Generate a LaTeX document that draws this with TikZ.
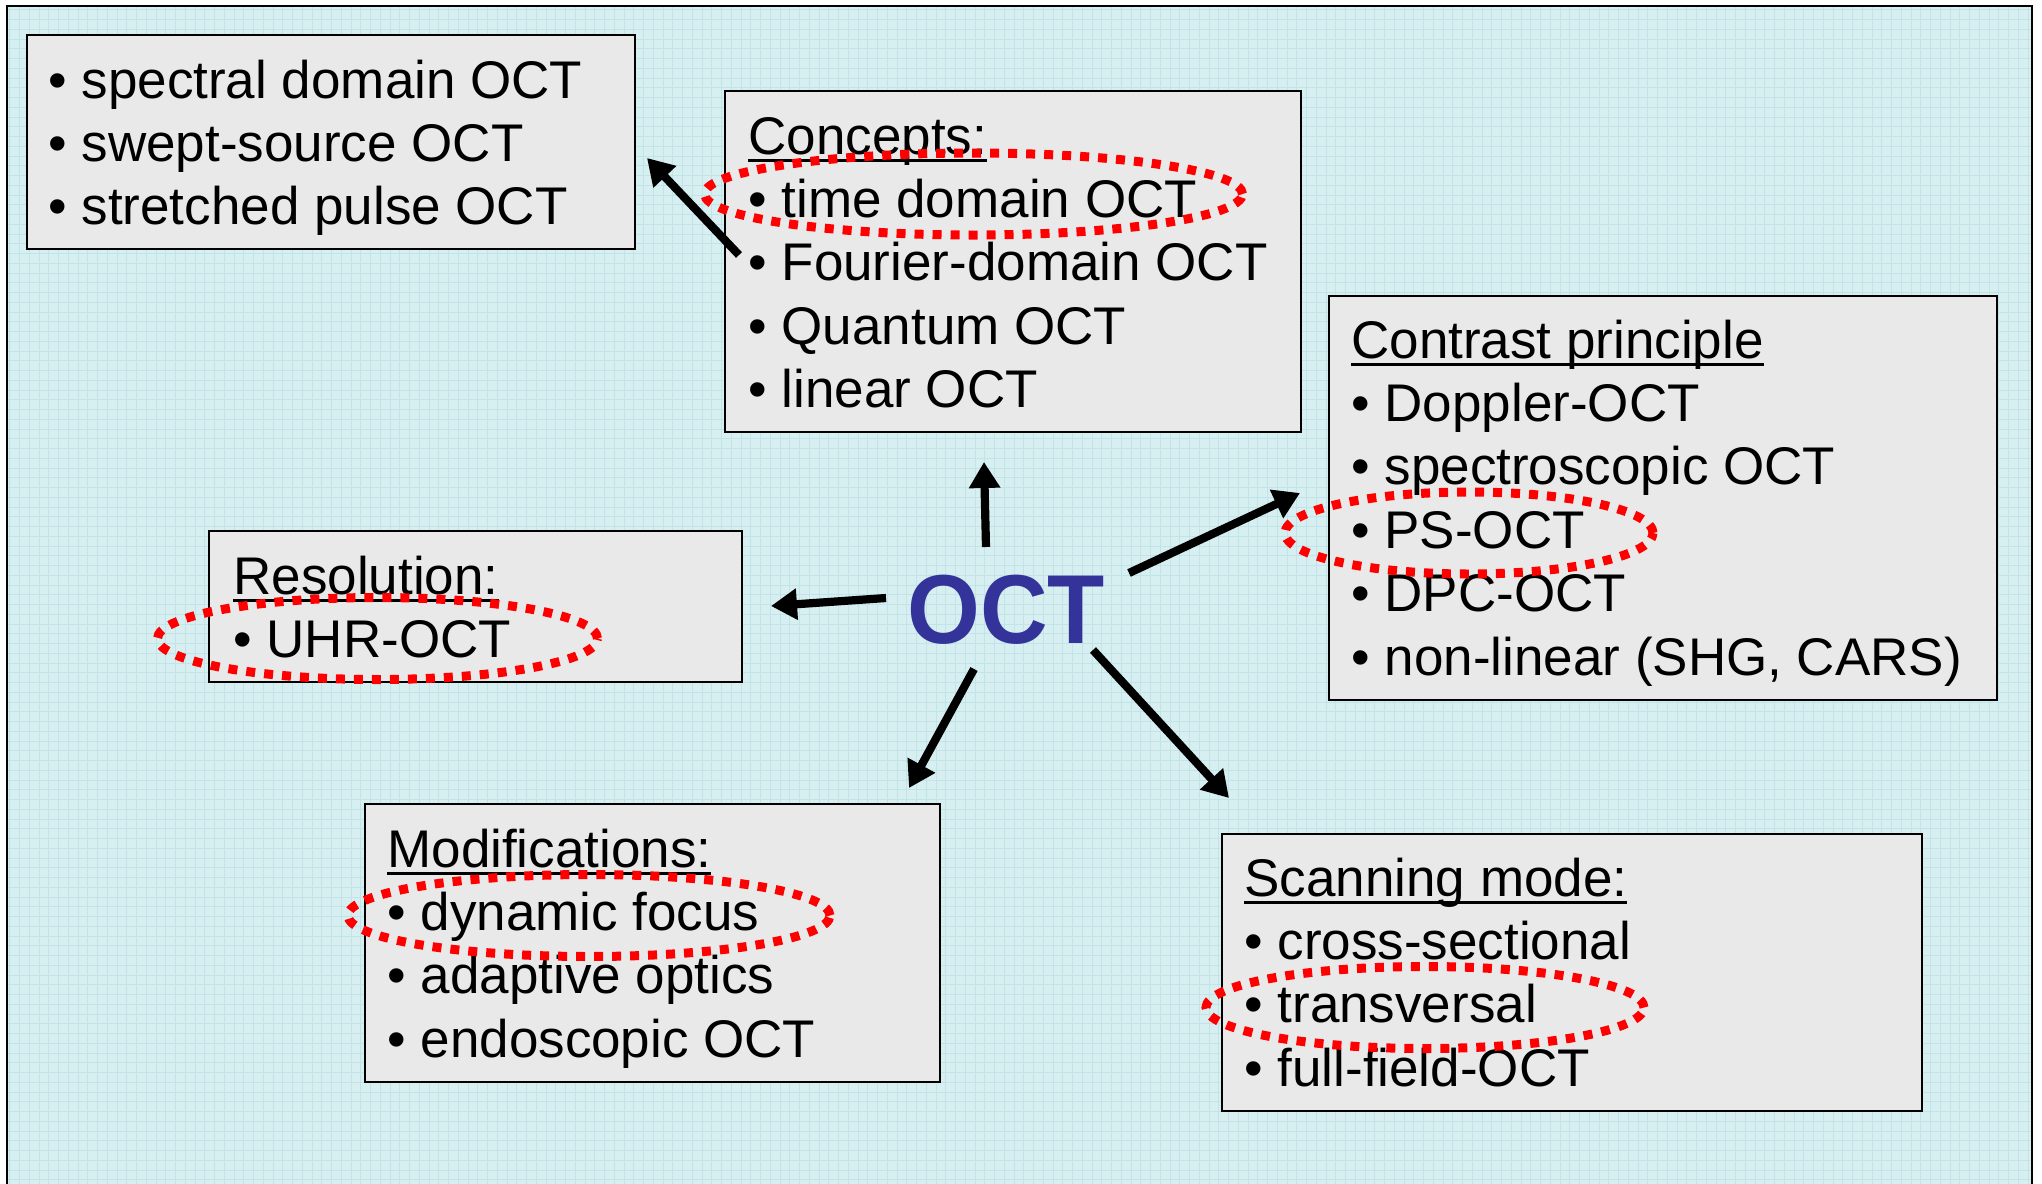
\documentclass[tikz,border=0pt]{standalone}
\usepackage{fontspec}
\setmainfont{Liberation Sans}
\usetikzlibrary{arrows.meta,fit}

\definecolor{paper}{RGB}{216,239,241}
\definecolor{paperline}{RGB}{192,228,232}
\definecolor{boxgray}{RGB}{233,233,233}
\definecolor{octblue}{RGB}{51,51,153}

% heading with a flat underline at a fixed depth below the baseline
\newcommand\ulhead[1]{\setbox0=\hbox{#1}\rlap{\rule[-4pt]{\wd0}{1.5pt}}\box0}
% lines of a panel, first baseline is the box baseline
\newcommand\panellines[1]{\vtop{#1}}

\tikzset{
  panel/.style={draw=black, line width=1.25pt, fill=boxgray, inner sep=0pt, rectangle},
  lines/.style={anchor=base west, inner sep=0pt,
    font={\fontsize{26.5pt}{31.7pt}\selectfont\lineskiplimit=-100pt}},
  hl/.style={draw=red, line width=4.5pt, dash pattern=on 4.5pt off 4.5pt},
  arr/.style={draw=black, line width=4.1pt, -{Triangle[length=13pt,width=15pt]}},
}

\begin{document}
\begin{tikzpicture}[x=0.5pt, y=-0.5pt]
\useasboundingbox (0,0) rectangle (2042,1184);
\fill[white] (0,0) rectangle (2042,1184);

% squared paper inside the frame
\begin{scope}
  \clip (7,6) rectangle (2032,1200);
  \fill[paper] (7,6) rectangle (2032,1200);
  \draw[paperline, line width=0.5pt, step=4.875pt] (7,6) grid (2032,1200);
\end{scope}
\draw[black, line width=1pt] (7,1200) -- (7,6) -- (2032,6) -- (2032,1200);

% panels
\node[panel, fit={(27,35) (635,249)}] (kinds) {};
\node[panel, fit={(725,91) (1301,432)}] (concepts) {};
\node[panel, fit={(1329,296) (1997,700)}] (contrast) {};
\node[panel, fit={(209,531) (742,682)}] (resolution) {};
\node[panel, fit={(365,804) (940,1082)}] (modif) {};
\node[panel, fit={(1222,834) (1922,1111)}] (scanning) {};

% panel texts
\node[lines] (kinds-t) at (48,98) {\panellines{%
  \hbox{• spectral domain OCT}
  \hbox{• swept-source OCT}
  \hbox{• stretched pulse OCT}}};
\node[lines] (concepts-t) at (748,154) {\panellines{%
  \hbox{\ulhead{Concepts:}}
  \hbox{• time domain OCT}
  \hbox{• Fourier-domain OCT}
  \hbox{• Quantum OCT}
  \hbox{• linear OCT}}};
\node[lines] (contrast-t) at (1351,358) {\panellines{%
  \hbox{\ulhead{Contrast principle}}
  \hbox{• Doppler-OCT}
  \hbox{• spectroscopic OCT}
  \hbox{• PS-OCT}
  \hbox{• DPC-OCT}
  \hbox{• non-linear (SHG, CARS)}}};
\node[lines] (resolution-t) at (233,594) {\panellines{%
  \hbox{\ulhead{Resolution:}}
  \hbox{• UHR-OCT}}};
\node[lines] (modif-t) at (387,867) {\panellines{%
  \hbox{\ulhead{Modifications:}}
  \hbox{• dynamic focus}
  \hbox{• adaptive optics}
  \hbox{• endoscopic OCT}}};
\node[lines] (scanning-t) at (1244,896) {\panellines{%
  \hbox{\ulhead{Scanning mode:}}
  \hbox{• cross-sectional}
  \hbox{• transversal}
  \hbox{• full-field-OCT}}};

% central label
\node[anchor=base west, inner sep=0pt, text=octblue,
      font={\fontsize{49pt}{49pt}\selectfont\bfseries}] (oct) at (907,643)
      {\scalebox{0.955}[1]{OCT}};

% dotted red highlights
\draw[hl] (973.5,194) ellipse [x radius=134.5pt, y radius=20.5pt];
\draw[hl] (1469,533) ellipse [x radius=92pt, y radius=20.5pt];
\draw[hl] (377.5,638.5) ellipse [x radius=110pt, y radius=20.5pt];
\draw[hl] (589,915.5) ellipse [x radius=120.5pt, y radius=20.5pt];
\draw[hl] (1425,1007.5) ellipse [x radius=109.5pt, y radius=20.5pt];

% arrow ends
\coordinate (oct-n)  at (986,547);
\coordinate (oct-w)  at (886,598);
\coordinate (oct-ne) at (1129,573);
\coordinate (oct-sw) at (974,669);
\coordinate (oct-se) at (1093,650);
\coordinate (concepts-w) at (739,255);
\coordinate (to-concepts)   at (984,462);
\coordinate (to-resolution) at (771,606);
\coordinate (to-contrast)   at (1300,493);
\coordinate (to-modif)      at (909,788);
\coordinate (to-scanning)   at (1229,798);
\coordinate (to-kinds)      at (647,158);

\draw[arr] (oct-n)  -- (to-concepts);
\draw[arr] (oct-w)  -- (to-resolution);
\draw[arr] (oct-ne) -- (to-contrast);
\draw[arr] (oct-sw) -- (to-modif);
\draw[arr] (oct-se) -- (to-scanning);
\draw[arr] (concepts-w) -- (to-kinds);
\end{tikzpicture}
\end{document}
